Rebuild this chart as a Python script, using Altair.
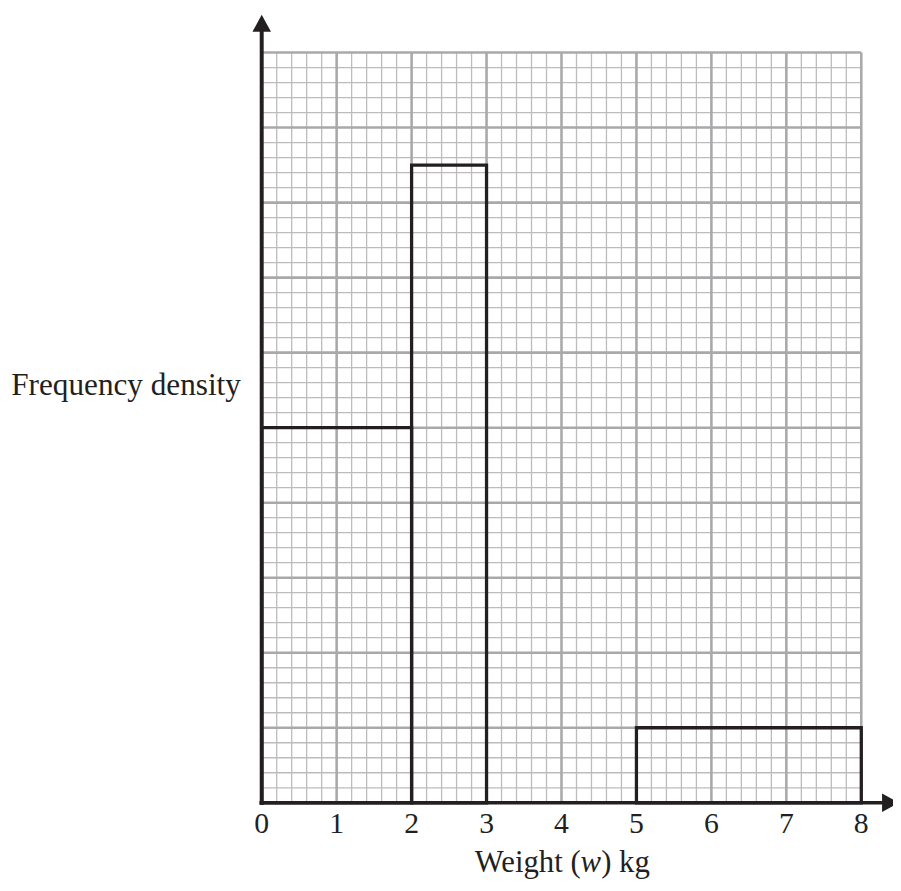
import altair as alt
import pandas as pd

# ---- data ----
class_lower = [0, 2, 5]
class_upper = [2, 3, 8]
freq_density = [5, 8.5, 1]          # in major grid units
x_tick_values = [0, 1, 2, 3, 4, 5, 6, 7, 8]
x_tick_labels = ["0", "1", "2", "3", "4", "5", "6", "7", "8"]
y_label = "Frequency density"
x_label_parts = ["Weight (", "w", ") kg"]

FONT = "Liberation Serif"
INK = "#231f20"
MINOR = "#bcbcbe"
MAJOR = "#a9a9ab"

xs = alt.Scale(domain=[0, 8], nice=False, zero=False)
ys = alt.Scale(domain=[0, 10], nice=False, zero=False)

minor_x = [i / 5 for i in range(41) if i % 5]
major_x = list(range(9))
minor_y = [i / 5 for i in range(51) if i % 5]
major_y = list(range(11))

one = pd.DataFrame({"k": [0]})


def vrules(vals, color, w):
    return alt.Chart(pd.DataFrame({"v": vals})).mark_rule(color=color, strokeWidth=w).encode(
        x=alt.X("v:Q", scale=xs, axis=None)
    )


def hrules(vals, color, w):
    return alt.Chart(pd.DataFrame({"v": vals})).mark_rule(color=color, strokeWidth=w).encode(
        y=alt.Y("v:Q", scale=ys, axis=None)
    )


bars_df = pd.DataFrame({
    "lo": class_lower,
    "hi": class_upper,
    "base": [0] * len(class_lower),
    "fd": freq_density,
})
bars = alt.Chart(bars_df).mark_rect(
    fill="transparent", stroke=INK, strokeWidth=3.3, strokeJoin="miter"
).encode(
    x=alt.X("lo:Q", scale=xs, axis=None),
    x2="hi:Q",
    y=alt.Y("base:Q", scale=ys, axis=None),
    y2="fd:Q",
)

y_axis_line = alt.Chart(one).mark_rule(color=INK, strokeWidth=4).encode(
    x=alt.XDatum(0, scale=xs, axis=None),
    y=alt.YDatum(-0.03, scale=ys, axis=None),
    y2=alt.Y2Datum(10.3),
)
x_axis_line = alt.Chart(one).mark_rule(color=INK, strokeWidth=3.5).encode(
    x=alt.XDatum(-0.03, scale=xs, axis=None),
    x2=alt.X2Datum(8.3),
    y=alt.YDatum(0, scale=ys, axis=None),
)

UP = "M0,-1L1.1,1L-1.1,1Z"
RIGHT = "M1,0L-1,1.1L-1,-1.1Z"
up_arrow = alt.Chart(one).mark_point(
    shape=UP, filled=True, size=289, color=INK, opacity=1, strokeWidth=0
).encode(x=alt.XDatum(0, scale=xs, axis=None), y=alt.YDatum(10.39, scale=ys, axis=None))
right_arrow = alt.Chart(one).mark_point(
    shape=RIGHT, filled=True, size=289, color=INK, opacity=1, strokeWidth=0
).encode(x=alt.XDatum(8.39, scale=xs, axis=None), y=alt.YDatum(0, scale=ys, axis=None))

ticks_df = pd.DataFrame({"v": x_tick_values, "lab": x_tick_labels})
tick_labels = alt.Chart(ticks_df).mark_text(
    font=FONT, fontSize=30, color=INK, align="center", baseline="alphabetic", dy=31
).encode(
    x=alt.X("v:Q", scale=xs, axis=None),
    y=alt.YDatum(0, scale=ys, axis=None),
    text="lab:N",
)

ylab = alt.Chart(one).mark_text(
    text=y_label, font=FONT, fontSize=31.5, color=INK, align="right", baseline="alphabetic"
).encode(x=alt.value(-21), y=alt.value(346))

xl1 = alt.Chart(one).mark_text(
    text=x_label_parts[0], font=FONT, fontSize=31, color=INK, align="right",
    baseline="alphabetic", dx=19.3, dy=70
).encode(x=alt.XDatum(4, scale=xs, axis=None), y=alt.YDatum(0, scale=ys, axis=None))
xl2 = alt.Chart(one).mark_text(
    text=x_label_parts[1], font=FONT, fontSize=31, fontStyle="italic", color=INK,
    align="center", baseline="alphabetic", dx=29.5, dy=70
).encode(x=alt.XDatum(4, scale=xs, axis=None), y=alt.YDatum(0, scale=ys, axis=None))
xl3 = alt.Chart(one).mark_text(
    text=x_label_parts[2], font=FONT, fontSize=31, color=INK, align="left",
    baseline="alphabetic", dx=40, dy=70
).encode(x=alt.XDatum(4, scale=xs, axis=None), y=alt.YDatum(0, scale=ys, axis=None))

chart = alt.layer(
    vrules(minor_x, MINOR, 1.3),
    hrules(minor_y, MINOR, 1.3),
    vrules(major_x, MAJOR, 2.6),
    hrules(major_y, MAJOR, 2.6),
    bars,
    y_axis_line,
    x_axis_line,
    up_arrow,
    right_arrow,
    tick_labels,
    ylab,
    xl1,
    xl2,
    xl3,
).properties(
    width=605,
    height=757,
    autosize=alt.AutoSizeParams(type="none"),
    padding={"left": 256, "top": 41, "right": 32, "bottom": 78},
).configure_view(strokeWidth=0)

chart.save("out.html", embed_options={"renderer": "svg", "actions": False})
